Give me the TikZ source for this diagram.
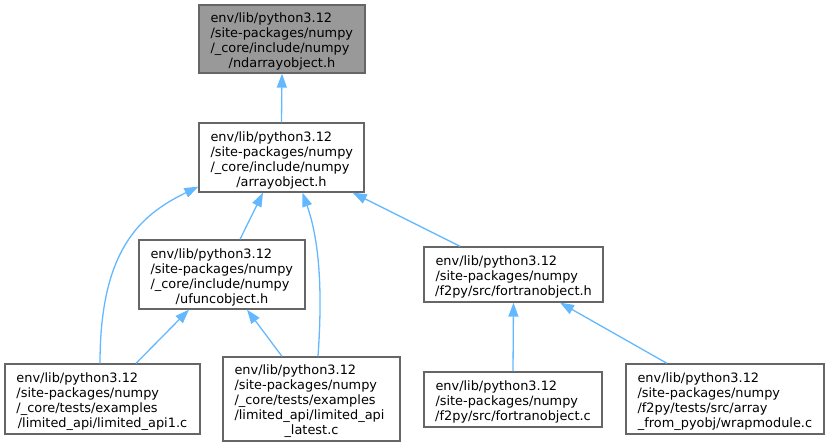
\documentclass[tikz,border=0pt]{standalone}
\usepackage{fontspec}
\setmainfont{DejaVu Sans}
\usetikzlibrary{arrows.meta,calc}
\definecolor{edgeblue}{HTML}{63B8FF}
\definecolor{boxborder}{HTML}{666666}
\definecolor{rootfill}{HTML}{999999}
\newcommand\topgap{\rule{0pt}{14.8bp}}
\tikzset{
  filebox/.style={draw=boxborder, line width=1.3bp, fill=white, inner xsep=11.5bp, inner ysep=0pt,
    align=left, font=\fontsize{12.9bp}{15bp}\selectfont},
  rootbox/.style={filebox, fill=rootfill},
  dep/.style={draw=edgeblue, line width=1.3bp, -{Triangle[length=14bp,width=10bp]}}
}
\begin{document}
\begin{tikzpicture}[x=1bp,y=-1bp]
\useasboundingbox (0,0) rectangle (830,447);
% nodes
\node[rootbox, text width=143bp, minimum height=68bp] (A) at (282,39)
  {\topgap\mbox{env/lib/python3.12}\\\mbox{/site-packages/numpy}\\\mbox{/\_core/include/numpy}\\\makebox[\linewidth]{/ndarrayobject.h}};
\node[filebox, text width=142bp, minimum height=69bp] (B) at (281.5,157.5)
  {\topgap\mbox{env/lib/python3.12}\\\mbox{/site-packages/numpy}\\\mbox{/\_core/include/numpy}\\\makebox[\linewidth]{/arrayobject.h}};
\node[filebox, text width=143bp, minimum height=69bp] (C) at (222,274.5)
  {\topgap\mbox{env/lib/python3.12}\\\mbox{/site-packages/numpy}\\\mbox{/\_core/include/numpy}\\\makebox[\linewidth]{/ufuncobject.h}};
\node[filebox, text width=172bp, minimum height=70bp] (D) at (102.5,399)
  {\topgap\mbox{env/lib/python3.12}\\\mbox{/site-packages/numpy}\\\mbox{/\_core/tests/examples}\\\makebox[\linewidth]{/limited\_api/limited\_api1.c}};
\node[filebox, text width=154bp, minimum height=84bp] (E) at (311.5,399)
  {\topgap\mbox{env/lib/python3.12}\\\mbox{/site-packages/numpy}\\\mbox{/\_core/tests/examples}\\\mbox{/limited\_api/limited\_api}\\\makebox[\linewidth]{\_latest.c}};
\node[filebox, text width=156bp, minimum height=55bp] (F) at (513.5,274.5)
  {\topgap\mbox{env/lib/python3.12}\\\mbox{/site-packages/numpy}\\\makebox[\linewidth]{/f2py/src/fortranobject.h}};
\node[filebox, text width=155bp, minimum height=55bp] (G) at (513,399.5)
  {\topgap\mbox{env/lib/python3.12}\\\mbox{/site-packages/numpy}\\\makebox[\linewidth]{/f2py/src/fortranobject.c}};
\node[filebox, text width=175bp, minimum height=70bp] (H) at (725,399)
  {\topgap\mbox{env/lib/python3.12}\\\mbox{/site-packages/numpy}\\\mbox{/f2py/tests/src/array}\\\makebox[\linewidth]{\_from\_pyobj/wrapmodule.c}};
% edges
\draw[dep] (B.north) -- (A.south);
\draw[dep] ($(C.north)+(18,0)$) -- ($(B.south)+(-18.5,0)$);
\draw[dep] ($(D.north)+(-2.5,0)$) .. controls (100,250) and (140,215) .. ($(B.south west)+(0,-6)$);
\draw[dep] ($(E.north)+(6.5,0)$) .. controls (322,300) and (321,245) .. ($(B.south)+(21,0)$);
\draw[dep] ($(F.north)+(-53.5,0)$) -- ($(B.south east)+(-12,0)$);
\draw[dep] ($(D.north)+(33.5,0)$) -- ($(C.south)+(-33,0)$);
\draw[dep] ($(E.north)+(-29.5,0)$) -- ($(C.south)+(25,0)$);
\draw[dep] (G.north) -- (F.south);
\draw[dep] ($(H.north)+(-58,0)$) -- ($(F.south)+(46.5,0)$);
\end{tikzpicture}
\end{document}
